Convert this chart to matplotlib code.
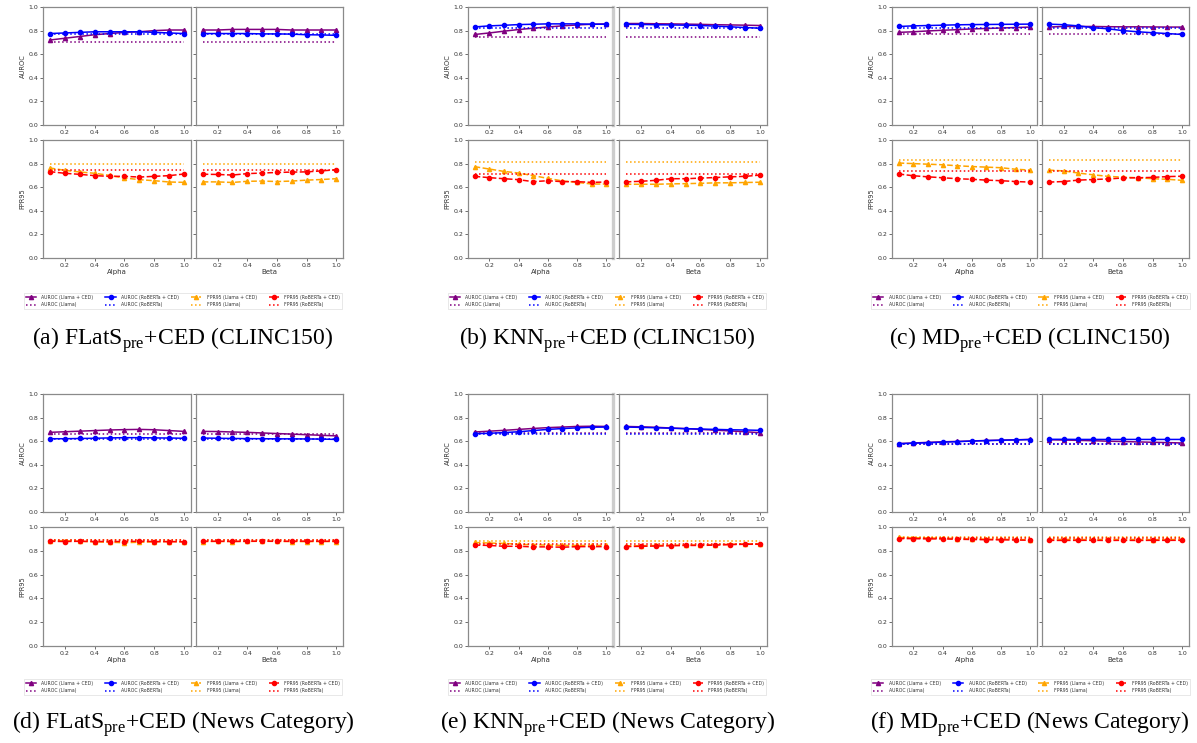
import matplotlib
matplotlib.use("Agg")
import matplotlib.pyplot as plt

plt.rcParams['mathtext.fontset'] = 'custom'
plt.rcParams['mathtext.rm'] = 'Liberation Serif'

W, H = 1197, 743

x_vals = [0.1, 0.2, 0.3, 0.4, 0.5, 0.6, 0.7, 0.8, 0.9, 1.0]

# (a) FLatS + CED, CLINC150
a_auroc_alpha_llama = [0.72, 0.735, 0.75, 0.765, 0.775, 0.785, 0.79, 0.80, 0.805, 0.805]
a_auroc_alpha_roberta = [0.775, 0.78, 0.785, 0.79, 0.79, 0.79, 0.79, 0.785, 0.78, 0.775]
a_auroc_beta_llama = [0.805, 0.805, 0.81, 0.81, 0.81, 0.81, 0.805, 0.805, 0.805, 0.805]
a_auroc_beta_roberta = [0.775, 0.775, 0.775, 0.775, 0.772, 0.772, 0.77, 0.765, 0.763, 0.76]
a_fpr_alpha_llama = [0.763, 0.743, 0.729, 0.718, 0.70, 0.678, 0.664, 0.655, 0.644, 0.641]
a_fpr_alpha_roberta = [0.732, 0.718, 0.709, 0.698, 0.692, 0.692, 0.686, 0.692, 0.698, 0.712]
a_fpr_beta_llama = [0.645, 0.645, 0.64, 0.65, 0.652, 0.648, 0.652, 0.66, 0.665, 0.672]
a_fpr_beta_roberta = [0.71, 0.708, 0.703, 0.715, 0.72, 0.725, 0.728, 0.73, 0.738, 0.748]
a_base = [0.703, 0.767, 0.80, 0.746]

# (b) KNN + CED, CLINC150
b_auroc_alpha_llama = [0.767, 0.78, 0.795, 0.809, 0.82, 0.831, 0.84, 0.848, 0.854, 0.857]
b_auroc_alpha_roberta = [0.831, 0.84, 0.845, 0.851, 0.854, 0.857, 0.857, 0.857, 0.854, 0.854]
b_auroc_beta_llama = [0.86, 0.86, 0.858, 0.857, 0.855, 0.853, 0.85, 0.848, 0.846, 0.843]
b_auroc_beta_roberta = [0.853, 0.852, 0.85, 0.848, 0.846, 0.843, 0.838, 0.832, 0.826, 0.82]
b_fpr_alpha_llama = [0.774, 0.754, 0.734, 0.72, 0.698, 0.675, 0.653, 0.641, 0.627, 0.627]
b_fpr_alpha_roberta = [0.692, 0.681, 0.672, 0.664, 0.647, 0.655, 0.647, 0.647, 0.641, 0.644]
b_fpr_beta_llama = [0.625, 0.625, 0.625, 0.628, 0.63, 0.633, 0.637, 0.637, 0.64, 0.642]
b_fpr_beta_roberta = [0.645, 0.65, 0.658, 0.672, 0.672, 0.677, 0.682, 0.688, 0.692, 0.703]
b_base = [0.75, 0.826, 0.811, 0.709]

# (c) MD + CED, CLINC150
c_auroc_alpha_llama = [0.785, 0.79, 0.797, 0.803, 0.808, 0.814, 0.818, 0.822, 0.826, 0.83]
c_auroc_alpha_roberta = [0.835, 0.84, 0.843, 0.846, 0.849, 0.851, 0.852, 0.853, 0.854, 0.855]
c_auroc_beta_llama = [0.83, 0.835, 0.835, 0.835, 0.833, 0.832, 0.832, 0.831, 0.83, 0.83]
c_auroc_beta_roberta = [0.855, 0.85, 0.84, 0.825, 0.815, 0.80, 0.79, 0.782, 0.775, 0.767]
c_fpr_alpha_llama = [0.805, 0.80, 0.795, 0.79, 0.782, 0.775, 0.77, 0.765, 0.752, 0.745]
c_fpr_alpha_roberta = [0.712, 0.697, 0.688, 0.68, 0.672, 0.667, 0.66, 0.655, 0.648, 0.643]
c_fpr_beta_llama = [0.745, 0.738, 0.72, 0.705, 0.692, 0.685, 0.68, 0.672, 0.667, 0.658]
c_fpr_beta_roberta = [0.643, 0.648, 0.66, 0.665, 0.67, 0.678, 0.68, 0.683, 0.69, 0.693]
c_base = [0.77, 0.826, 0.83, 0.735]

# (d) FLatS + CED, News Category
d_auroc_alpha_llama = [0.675, 0.68, 0.685, 0.69, 0.695, 0.698, 0.70, 0.697, 0.69, 0.683]
d_auroc_alpha_roberta = [0.621, 0.621, 0.623, 0.625, 0.628, 0.63, 0.63, 0.628, 0.627, 0.625]
d_auroc_beta_llama = [0.683, 0.682, 0.678, 0.675, 0.67, 0.665, 0.66, 0.655, 0.65, 0.645]
d_auroc_beta_roberta = [0.627, 0.625, 0.623, 0.622, 0.621, 0.62, 0.62, 0.619, 0.618, 0.615]
d_fpr_alpha_llama = [0.885, 0.885, 0.88, 0.875, 0.872, 0.868, 0.872, 0.875, 0.878, 0.875]
d_fpr_alpha_roberta = [0.88, 0.878, 0.88, 0.878, 0.878, 0.878, 0.88, 0.878, 0.877, 0.876]
d_fpr_beta_llama = [0.878, 0.879, 0.878, 0.879, 0.88, 0.879, 0.878, 0.877, 0.878, 0.878]
d_fpr_beta_roberta = [0.88, 0.88, 0.879, 0.88, 0.881, 0.88, 0.88, 0.881, 0.88, 0.88]
d_base = [0.665, 0.616, 0.888, 0.892]

# (e) KNN + CED, News Category
e_auroc_alpha_llama = [0.678, 0.685, 0.692, 0.70, 0.708, 0.715, 0.72, 0.725, 0.727, 0.725]
e_auroc_alpha_roberta = [0.664, 0.667, 0.673, 0.68, 0.69, 0.70, 0.707, 0.713, 0.718, 0.72]
e_auroc_beta_llama = [0.725, 0.722, 0.718, 0.712, 0.707, 0.70, 0.693, 0.687, 0.68, 0.672]
e_auroc_beta_roberta = [0.72, 0.717, 0.714, 0.71, 0.706, 0.703, 0.70, 0.697, 0.695, 0.692]
e_fpr_alpha_llama = [0.87, 0.865, 0.862, 0.855, 0.85, 0.848, 0.845, 0.845, 0.845, 0.845]
e_fpr_alpha_roberta = [0.848, 0.845, 0.838, 0.838, 0.833, 0.833, 0.83, 0.835, 0.835, 0.835]
e_fpr_beta_llama = [0.842, 0.843, 0.845, 0.847, 0.848, 0.85, 0.852, 0.855, 0.858, 0.86]
e_fpr_beta_roberta = [0.835, 0.838, 0.84, 0.842, 0.845, 0.845, 0.848, 0.852, 0.855, 0.855]
e_base = [0.672, 0.662, 0.879, 0.856]

# (f) MD + CED, News Category
f_auroc_alpha_llama = [0.58, 0.585, 0.59, 0.595, 0.598, 0.602, 0.606, 0.609, 0.612, 0.615]
f_auroc_alpha_roberta = [0.578, 0.583, 0.587, 0.592, 0.596, 0.601, 0.605, 0.608, 0.611, 0.614]
f_auroc_beta_llama = [0.612, 0.61, 0.607, 0.604, 0.60, 0.597, 0.594, 0.591, 0.588, 0.585]
f_auroc_beta_roberta = [0.616, 0.616, 0.615, 0.615, 0.615, 0.615, 0.615, 0.615, 0.615, 0.615]
f_fpr_alpha_llama = [0.912, 0.91, 0.908, 0.906, 0.903, 0.90, 0.898, 0.897, 0.895, 0.893]
f_fpr_alpha_roberta = [0.903, 0.902, 0.90, 0.90, 0.897, 0.895, 0.893, 0.892, 0.891, 0.888]
f_fpr_beta_llama = [0.895, 0.896, 0.895, 0.895, 0.896, 0.895, 0.895, 0.894, 0.895, 0.895]
f_fpr_beta_roberta = [0.888, 0.887, 0.888, 0.888, 0.887, 0.888, 0.887, 0.888, 0.888, 0.888]
f_base = [0.578, 0.578, 0.92, 0.907]

captions = [
    r'(a) FLatS$_{\mathrm{pre}}$+CED (CLINC150)',
    r'(b) KNN$_{\mathrm{pre}}$+CED (CLINC150)',
    r'(c) MD$_{\mathrm{pre}}$+CED (CLINC150)',
    r'(d) FLatS$_{\mathrm{pre}}$+CED (News Category)',
    r'(e) KNN$_{\mathrm{pre}}$+CED (News Category)',
    r'(f) MD$_{\mathrm{pre}}$+CED (News Category)',
]

panels = [
    (a_auroc_alpha_llama, a_auroc_alpha_roberta, a_auroc_beta_llama, a_auroc_beta_roberta,
     a_fpr_alpha_llama, a_fpr_alpha_roberta, a_fpr_beta_llama, a_fpr_beta_roberta, a_base),
    (b_auroc_alpha_llama, b_auroc_alpha_roberta, b_auroc_beta_llama, b_auroc_beta_roberta,
     b_fpr_alpha_llama, b_fpr_alpha_roberta, b_fpr_beta_llama, b_fpr_beta_roberta, b_base),
    (c_auroc_alpha_llama, c_auroc_alpha_roberta, c_auroc_beta_llama, c_auroc_beta_roberta,
     c_fpr_alpha_llama, c_fpr_alpha_roberta, c_fpr_beta_llama, c_fpr_beta_roberta, c_base),
    (d_auroc_alpha_llama, d_auroc_alpha_roberta, d_auroc_beta_llama, d_auroc_beta_roberta,
     d_fpr_alpha_llama, d_fpr_alpha_roberta, d_fpr_beta_llama, d_fpr_beta_roberta, d_base),
    (e_auroc_alpha_llama, e_auroc_alpha_roberta, e_auroc_beta_llama, e_auroc_beta_roberta,
     e_fpr_alpha_llama, e_fpr_alpha_roberta, e_fpr_beta_llama, e_fpr_beta_roberta, e_base),
    (f_auroc_alpha_llama, f_auroc_alpha_roberta, f_auroc_beta_llama, f_auroc_beta_roberta,
     f_fpr_alpha_llama, f_fpr_alpha_roberta, f_fpr_beta_llama, f_fpr_beta_roberta, f_base),
]

# pixel layout of each panel (left axes x0,x1, right axes x0,x1)
col_px = [(43, 191, 196, 343), (468, 613, 619, 767), (892, 1037, 1042, 1189)]
# (top axes y0,y1), (bottom axes y0,y1), legend y, caption y
row_px = [((7, 125), (140, 258), 301, 340), ((394, 512), (527, 646), 687, 724)]
legend_px = [(23, 343), (447, 767), (871, 1190)]
caption_x = [183, 607, 1030]

TEXT = '#333333'
SPINE = '#8a8a8a'


def add_axes(x0, x1, y0, y1):
    ax = fig.add_axes([x0 / W, 1 - y1 / H, (x1 - x0) / W, (y1 - y0) / H])
    ax.set_ylim(0, 1.0)
    ax.set_yticks([0, 0.2, 0.4, 0.6, 0.8, 1.0])
    ax.set_xticks([0.2, 0.4, 0.6, 0.8, 1.0])
    ax.tick_params(labelsize=4.5, colors=TEXT, length=2, width=0.5, pad=1.5)
    for s in ax.spines.values():
        s.set_color(SPINE)
        s.set_linewidth(0.9)
    return ax


def draw_metric(ax, llama, roberta, base_llama, base_roberta, metric):
    if metric == 'AUROC':
        c1, c2, ls = 'purple', 'blue', '-'
    else:
        c1, c2, ls = 'orange', 'red', '--'
    h1, = ax.plot(x_vals, llama, color=c1, ls=ls, marker='^', ms=3, lw=1.1,
                  label=f'{metric} (Llama + CED)')
    h2, = ax.plot(x_vals, [base_llama] * len(x_vals), color=c1, ls=':', lw=1.1,
                  label=f'{metric} (Llama)')
    h3, = ax.plot(x_vals, roberta, color=c2, ls=ls, marker='o', ms=3, lw=1.1,
                  label=f'{metric} (RoBERTa + CED)')
    h4, = ax.plot(x_vals, [base_roberta] * len(x_vals), color=c2, ls=':', lw=1.1,
                  label=f'{metric} (RoBERTa)')
    return [h1, h2, h3, h4]


fig = plt.figure(figsize=(W / 100, H / 100), dpi=100)

for i, p in enumerate(panels):
    aa_l, aa_r, ab_l, ab_r, fa_l, fa_r, fb_l, fb_r, base = p
    col = col_px[i % 3]
    top, bot, leg_y, cap_y = row_px[i // 3]

    ax1 = add_axes(col[0], col[1], *top)
    ax2 = add_axes(col[2], col[3], *top)
    ax3 = add_axes(col[0], col[1], *bot)
    ax4 = add_axes(col[2], col[3], *bot)

    # middle column panels have a wider, paler right spine on the left axes
    if i % 3 == 1:
        for ax in (ax1, ax3):
            ax.spines['right'].set_linewidth(2.4)
            ax.spines['right'].set_color('#cdcdcd')

    hs_a = draw_metric(ax1, aa_l, aa_r, base[0], base[1], 'AUROC')
    draw_metric(ax2, ab_l, ab_r, base[0], base[1], 'AUROC')
    hs_f = draw_metric(ax3, fa_l, fa_r, base[2], base[3], 'FPR95')
    draw_metric(ax4, fb_l, fb_r, base[2], base[3], 'FPR95')

    ax2.set_yticklabels([])
    ax4.set_yticklabels([])
    ax1.set_ylabel('AUROC', fontsize=4.8, color=TEXT, labelpad=2)
    ax3.set_ylabel('FPR95', fontsize=4.8, color=TEXT, labelpad=2)
    ax3.set_xlabel('Alpha', fontsize=5, color=TEXT, labelpad=1)
    ax4.set_xlabel('Beta', fontsize=5, color=TEXT, labelpad=1)

    lx0, lx1 = legend_px[i % 3]
    leg = fig.legend(hs_a + hs_f, [h.get_label() for h in hs_a + hs_f],
                     loc='center', bbox_to_anchor=((lx0 + lx1) / 2 / W, 1 - leg_y / H),
                     ncol=4, fontsize=3.3, frameon=True, handlelength=2.2,
                     columnspacing=2.6, borderpad=0.5, labelspacing=0.5,
                     handletextpad=1.2, borderaxespad=0)
    leg.get_frame().set_linewidth(0.4)
    leg.get_frame().set_edgecolor('#cccccc')
    for t in leg.get_texts():
        t.set_color(TEXT)

    fig.text(caption_x[i % 3] / W, 1 - cap_y / H, captions[i], ha='center', va='center',
             fontfamily='Liberation Serif', fontsize=17)

fig.savefig('out.png', dpi=100)
